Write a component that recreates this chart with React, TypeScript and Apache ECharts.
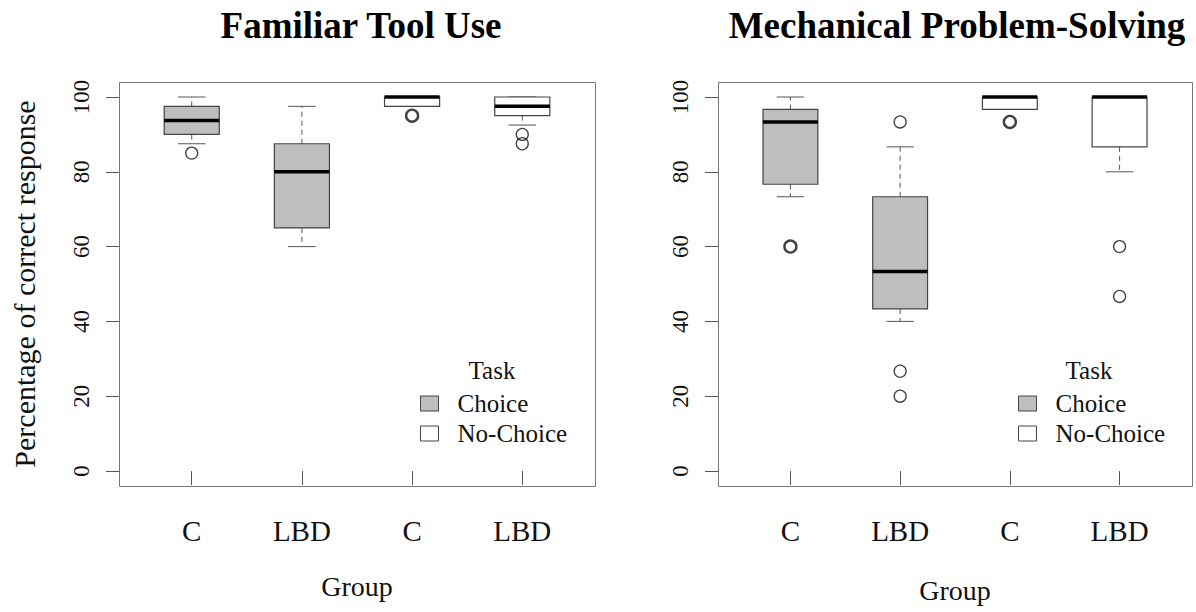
import React, { useEffect, useRef } from "react";
import * as echarts from "echarts";

// ---------- data ----------
const groups = ["C", "LBD", "C", "LBD"];
const xPositions = [1, 2, 3, 4];
const yTicks = [0, 20, 40, 60, 80, 100];
const panelTitles = ["Familiar Tool Use", "Mechanical Problem-Solving"];

// box statistics: [lower whisker, Q1, median, Q3, upper whisker]
const ftuChoice = [
  [87.5, 90, 93.75, 97.5, 100],
  [60, 65, 80, 87.5, 97.5],
];
const ftuNoChoice = [
  [97.5, 97.5, 100, 100, 100],
  [92.5, 95, 97.5, 100, 100],
];
// outliers: [group position, value, number of coinciding points]
const ftuOutliers = [
  [1, 85, 1],
  [3, 95, 2],
  [4, 90, 1],
  [4, 87.5, 1],
];

const mpsChoice = [
  [73.33, 76.67, 93.33, 96.67, 100],
  [40, 43.33, 53.33, 73.33, 86.67],
];
const mpsNoChoice = [
  [96.67, 96.67, 100, 100, 100],
  [80, 86.67, 100, 100, 100],
];
const mpsOutliers = [
  [1, 60, 2],
  [2, 93.33, 1],
  [2, 26.67, 1],
  [2, 20, 1],
  [3, 93.33, 2],
  [4, 60, 1],
  [4, 46.67, 1],
];

// ---------- styles ----------
const FONT = '"Liberation Serif", "DejaVu Serif", serif';
const CHOICE_FILL = "#bebebe";
const NOCHOICE_FILL = "#ffffff";
const BOX_STROKE = "#444";
const WHISKER = "#555";

function makeRender(fill: string) {
  return (params: any, api: any) => {
    const x = api.value(0);
    const mn = api.value(1);
    const q1 = api.value(2);
    const md = api.value(3);
    const q3 = api.value(4);
    const mx = api.value(5);
    const half = 0.25;
    const cap = 0.125;
    const p = (xx: number, yy: number) => api.coord([xx, yy]);
    const children: any[] = [];
    const dash = { stroke: WHISKER, lineWidth: 1, lineDash: [5, 4], fill: null };
    const solid = { stroke: WHISKER, lineWidth: 1, fill: null };
    const seg = (a: number[], b: number[], style: any) => ({
      type: "line",
      shape: { x1: a[0], y1: a[1], x2: b[0], y2: b[1] },
      style,
    });
    if (mx > q3) children.push(seg(p(x, q3), p(x, mx), dash));
    if (mn < q1) children.push(seg(p(x, q1), p(x, mn), dash));
    children.push(seg(p(x - cap, mx), p(x + cap, mx), solid));
    children.push(seg(p(x - cap, mn), p(x + cap, mn), solid));
    const tl = p(x - half, q3);
    const br = p(x + half, q1);
    children.push({
      type: "rect",
      shape: { x: tl[0], y: tl[1], width: br[0] - tl[0], height: br[1] - tl[1] },
      style: { fill, stroke: BOX_STROKE, lineWidth: 1.2 },
    });
    children.push(seg(p(x - half, md), p(x + half, md), { stroke: "#000", lineWidth: 3.5 }));
    return { type: "group", children };
  };
}

function boxData(stats: number[][], positions: number[]) {
  return stats.map((s, i) => [positions[i], ...s]);
}

function outlierData(list: number[][]) {
  return list.map((o) => ({
    value: [o[0], o[1]],
    itemStyle: { borderWidth: o[2] > 1 ? 2.4 : 1.3 },
  }));
}

export default function App() {
  const ref = useRef<HTMLDivElement>(null);

  useEffect(() => {
    if (!ref.current) return;
    const chart = echarts.init(ref.current, null, { renderer: "svg" });

    // plotting frames (R's 4% extended region) and data grids (0..100)
    const frames = [
      { left: 119, top: 82, width: 476, height: 404 },
      { left: 718, top: 82, width: 474, height: 404 },
    ];
    const grids = frames.map((f) => ({ left: f.left, width: f.width, top: 97, height: 374 }));

    const xAxes = grids.map((_, gi) => ({
      type: "value",
      gridIndex: gi,
      min: 0.34,
      max: 4.66,
      offset: 15,
      axisLine: { show: false },
      splitLine: { show: false },
      axisTick: {
        show: true,
        customValues: xPositions,
        length: 14,
        lineStyle: { color: "#555", width: 1 },
      },
      axisLabel: {
        customValues: xPositions,
        formatter: (v: number) => groups[Math.round(v) - 1] ?? "",
        fontFamily: FONT,
        fontSize: 29,
        color: "#111",
        margin: 30,
      },
      name: "Group",
      nameLocation: "middle",
      nameGap: gi === 0 ? 86 : 90,
      nameTextStyle: { fontFamily: FONT, fontSize: 28, color: "#111" },
    }));

    const yAxes = grids.map((_, gi) => ({
      type: "value",
      gridIndex: gi,
      min: 0,
      max: 100,
      interval: 20,
      axisLine: { show: false },
      splitLine: { show: false },
      axisTick: {
        show: true,
        length: 13,
        lineStyle: { color: "#555", width: 1 },
      },
      axisLabel: { show: false },
      name: gi === 0 ? "Percentage of correct response" : "",
      nameLocation: "middle",
      nameGap: 80,
      nameTextStyle: { fontFamily: FONT, fontSize: 30, color: "#111" },
    }));

    const panels = [
      { choice: ftuChoice, noChoice: ftuNoChoice, outliers: ftuOutliers },
      { choice: mpsChoice, noChoice: mpsNoChoice, outliers: mpsOutliers },
    ];

    const series: any[] = [];
    panels.forEach((pn, gi) => {
      series.push({
        type: "custom",
        name: "Choice",
        xAxisIndex: gi,
        yAxisIndex: gi,
        renderItem: makeRender(CHOICE_FILL),
        itemStyle: { color: CHOICE_FILL, borderColor: BOX_STROKE, borderWidth: 1 },
        encode: { x: 0, y: [1, 2, 3, 4, 5] },
        data: boxData(pn.choice, [1, 2]),
        z: 2,
      });
      series.push({
        type: "custom",
        name: "No-Choice",
        xAxisIndex: gi,
        yAxisIndex: gi,
        renderItem: makeRender(NOCHOICE_FILL),
        itemStyle: { color: NOCHOICE_FILL, borderColor: BOX_STROKE, borderWidth: 1 },
        encode: { x: 0, y: [1, 2, 3, 4, 5] },
        data: boxData(pn.noChoice, [3, 4]),
        z: 2,
      });
      series.push({
        type: "scatter",
        name: "outliers",
        xAxisIndex: gi,
        yAxisIndex: gi,
        symbol: "circle",
        symbolSize: 12,
        itemStyle: { color: "rgba(0,0,0,0)", borderColor: "#111", borderWidth: 1.3 },
        data: outlierData(pn.outliers),
        z: 3,
      });
    });

    const legendBase = {
      orient: "vertical",
      top: 386,
      itemWidth: 18,
      itemHeight: 15,
      itemGap: 5,
      icon: "rect",
      selectedMode: false,
      itemStyle: { borderColor: BOX_STROKE, borderWidth: 1 },
      textStyle: {
        fontFamily: FONT,
        fontSize: 25,
        color: "#111",
        lineHeight: 25,
        padding: [0, 0, 0, 14],
      },
      data: ["Choice", "No-Choice"],
    };

    chart.setOption({
      animation: false,
      textStyle: { fontFamily: FONT },
      grid: grids,
      xAxis: xAxes,
      yAxis: yAxes,
      legend: [
        { ...legendBase, left: 415 },
        { ...legendBase, left: 1013 },
      ],
      series,
    });

    // y tick labels, placed with the y axes' own scales
    const yLabels: any[] = [];
    grids.forEach((g, gi) => {
      yTicks.forEach((v) => {
        const py = chart.convertToPixel({ yAxisIndex: gi } as any, v) as unknown as number;
        yLabels.push({
          type: "text",
          id: `ylab-${gi}-${v}`,
          x: g.left - 38,
          y: py,
          rotation: Math.PI / 2,
          style: {
            text: String(v),
            fontFamily: FONT,
            fontSize: 23,
            fill: "#111",
            textAlign: "center",
            textVerticalAlign: "middle",
          },
        });
      });
    });

    const centers = [361, 957];

    chart.setOption({
      graphic: [
        ...frames.map((f, i) => ({
          type: "rect",
          id: `frame-${i}`,
          shape: { x: f.left + 0.5, y: f.top + 0.5, width: f.width, height: f.height },
          style: { fill: null, stroke: "#777", lineWidth: 1 },
          silent: true,
          z: 0,
        })),
        ...panelTitles.map((t, i) => ({
          type: "text",
          id: `title-${i}`,
          x: centers[i],
          y: 25,
          style: {
            text: t,
            fontFamily: FONT,
            fontWeight: "bold",
            fontSize: 37,
            fill: "#000",
            textAlign: "center",
            textVerticalAlign: "middle",
          },
        })),
        ...[492, 1089].map((x, i) => ({
          type: "text",
          id: `task-${i}`,
          x,
          y: 370,
          style: {
            text: "Task",
            fontFamily: FONT,
            fontSize: 25,
            fill: "#111",
            textAlign: "center",
            textVerticalAlign: "middle",
          },
        })),
        ...yLabels,
      ],
    });

    return () => chart.dispose();
  }, []);

  return (
    <div
      ref={ref}
      style={{ position: "fixed", left: 0, top: 0, width: 1196, height: 612, background: "#fff" }}
    />
  );
}
